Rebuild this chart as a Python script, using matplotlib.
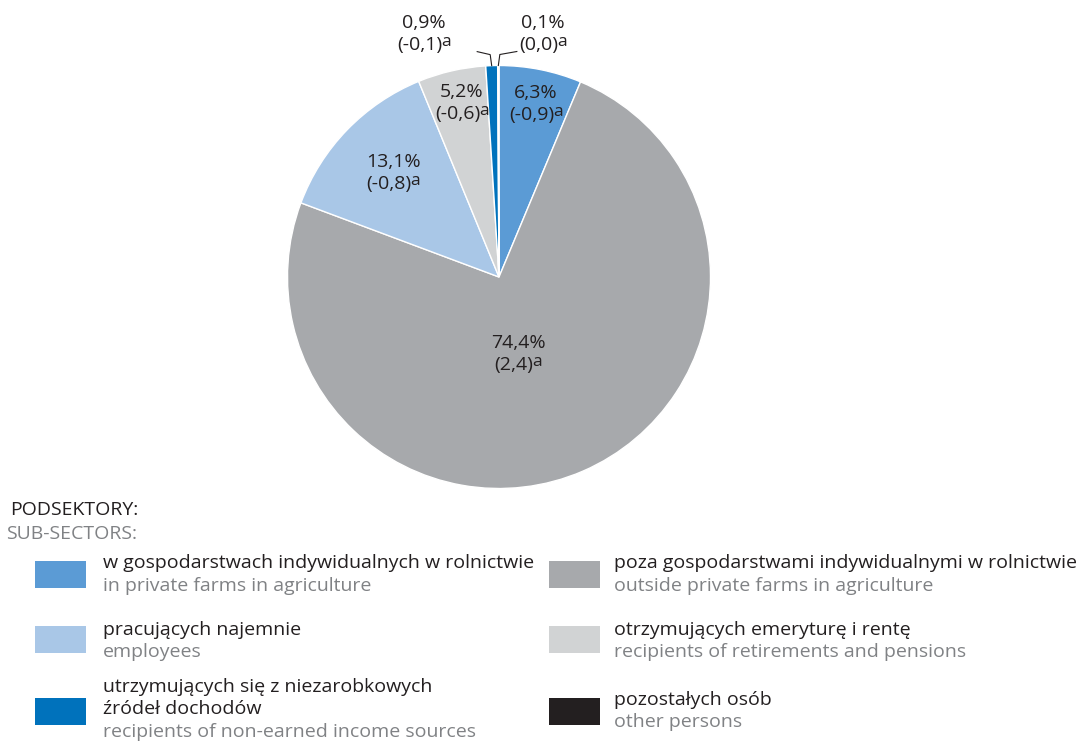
import numpy as np
import matplotlib.pyplot as plt
from matplotlib.patches import Rectangle

plt.rcParams['font.family'] = ['Open Sans', 'DejaVu Sans']

# Data
shares = [6.3, 74.4, 13.1, 5.2, 0.9, 0.1]
changes = ['-0,9', '2,4', '-0,8', '-0,6', '-0,1', '0,0']
colors = ['#5b9bd5', '#a7a9ac', '#a9c7e7', '#d1d3d4', '#0072bc', '#231f20']
names_pl = ['w gospodarstwach indywidualnych w rolnictwie',
            'poza gospodarstwami indywidualnymi w rolnictwie',
            'pracujących najemnie',
            'otrzymujących emeryturę i rentę',
            'utrzymujących się z niezarobkowych\nźródeł dochodów',
            'pozostałych osób']
names_en = ['in private farms in agriculture',
            'outside private farms in agriculture',
            'employees',
            'recipients of retirements and pensions',
            'recipients of non-earned income sources',
            'other persons']

W, H = 1077, 744
fig = plt.figure(figsize=(W / 100, H / 100), dpi=100)

# pie axes placed in pixel terms
cx, cy, R = 499, 277, 211.5
ax = fig.add_axes([(cx - R) / W, (H - cy - R) / H, 2 * R / W, 2 * R / H])
wedges, _ = ax.pie(shares, colors=colors, startangle=90, counterclock=False,
                   wedgeprops=dict(edgecolor='white', linewidth=1.0), radius=1)
ax.set_xlim(-1, 1)
ax.set_ylim(-1, 1)
ax.set_aspect('equal')
ax.axis('off')


def px(x, y):
    # pixel -> data coords of pie axes
    return (x - cx) / R, (cy - y) / R


dark = '#231f20'
grey_txt = '#808285'
fs = 14

# label positions (pixels) for each slice
lab_pos = [(536, 93), (518, 343), (393, 162), (462, 92), (424, 23), (543, 23)]
for (lx, ly), s, c in zip(lab_pos, shares, changes):
    x1, y1 = px(lx, ly)
    x2, y2 = px(lx - 4, ly + 22)
    ax.text(x1, y1, f'{s:.1f}%'.replace('.', ','), ha='center', va='center',
            fontsize=fs, color=dark)
    t = ax.text(x2, y2, f'({c})', ha='center', va='center',
                fontsize=fs, color=dark)
    ax.annotate('a', xy=(1, 0), xycoords=t, xytext=(-0.8, 6),
                textcoords='offset points', ha='left', va='baseline',
                fontsize=12.5, color=dark)

# leader lines for the two thin slices
th = np.cumsum([0] + shares)
for i, dx in [(4, -13), (5, 17)]:
    mid = np.deg2rad(90 - (th[i] + th[i + 1]) / 2 * 3.6)
    x0, y0 = np.cos(mid), np.sin(mid)
    x1, y1 = x0 + (-1.5 if dx < 0 else 1.5) / R, y0 + 11 / R
    x2, y2 = x1 + dx / R, y1 + 3 / R
    ax.plot([x0, x1, x2], [y0, y1, y2], color=dark, lw=0.8, clip_on=False)

# legend drawn in figure pixel coordinates
fax = fig.add_axes([0, 0, 1, 1], facecolor='none')
fax.set_xlim(0, W)
fax.set_ylim(H, 0)
fax.axis('off')

fax.text(10, 510, 'PODSEKTORY:', fontsize=fs, color=dark, va='center')
fax.text(6, 534, 'SUB-SECTORS:', fontsize=fs, color=grey_txt, va='center')

box_x = [35, 549]
text_x = [103, 614]
rows_y = [(561, 563, 586), (626, 630, 652), (698, 698, 732)]
for k in range(6):
    col = k % 2
    row = k // 2
    by, ty, ey = rows_y[row]
    if k == 5:
        ty, ey = 700, 722
    fax.add_patch(Rectangle((box_x[col], by), 51, 27, facecolor=colors[k],
                            edgecolor='none'))
    fax.text(text_x[col], ty, names_pl[k], fontsize=fs, color=dark,
             va='center', linespacing=1.3)
    fax.text(text_x[col], ey, names_en[k], fontsize=fs, color=grey_txt,
             va='center')

fig.savefig('out.png', dpi=100)
